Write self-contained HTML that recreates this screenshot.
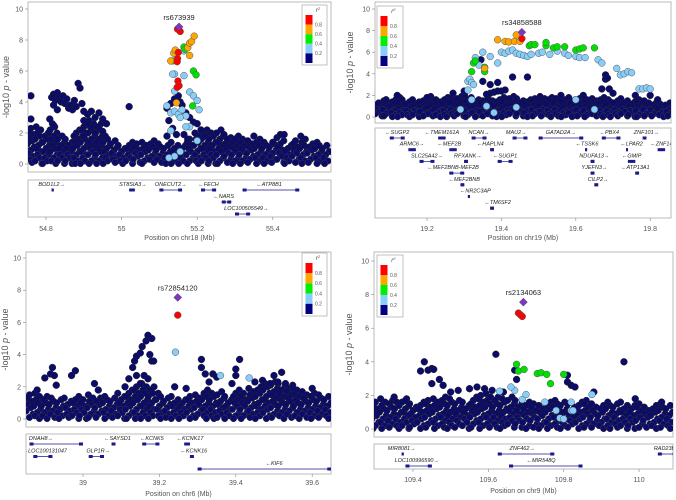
<!DOCTYPE html>
<html><head><meta charset="utf-8"><style>
html,body{margin:0;padding:0;background:#fff;width:676px;height:500px;overflow:hidden}
svg{display:block;font-family:"Liberation Sans",sans-serif}
</style></head><body>
<svg id="chart" width="676" height="500" viewBox="0 0 676 500"></svg>
<script>
// ---------- DATA ----------
const p1Lead=[55.152,8.85];
const p1Red=[[55.148,8.7],[55.155,8.55],[55.15,7.2],[55.148,6.8],[55.147,6.6],[55.149,5.35],[55.152,5.05],[55.147,4.95]];
const p1Orange=[[55.138,7.15],[55.142,7.35],[55.13,6.65],[55.175,7.5],[55.18,7.8],[55.185,7.9],[55.192,8.25],[55.18,7.0],[55.145,3.95]];
const p1Green=[[55.135,6.65],[55.165,7.55],[55.168,7.4],[55.19,6.0],[55.197,5.75],[55.188,3.75]];
const p1Blue=[[55.14,5.8],[55.165,5.7],[55.135,5.8],[55.12,3.75],[55.13,3.3],[55.14,3.4],[55.15,3.2],[55.16,3.5],[55.17,3.1],[55.18,4.65],[55.19,4.4],[55.2,4.1],[55.205,3.5],[55.18,2.4],[55.17,2.4],[55.155,3.0],[55.13,2.15],[55.2,1.5],[55.14,0.5],[55.155,0.8],[55.125,0.4],[55.165,7.3],[55.14,4.7]];
const p1Navy=[[54.815,4.3],[54.82,4.5],[54.825,4.1],[54.83,4.6],[54.835,4.3],[54.84,4.0],[54.845,4.4],[54.85,3.9],[54.855,4.2],[54.86,3.6],[54.865,3.8],[54.87,3.5],[54.875,4.1],[54.88,3.7],[54.885,5.2],[54.89,4.9],[54.895,3.9],[54.9,3.4],[54.82,3.8],[54.83,3.5],[54.81,2.9],[54.82,2.5],[54.76,4.4],[54.76,2.9],[54.9,2.8],[54.91,3.2],[54.92,3.4],[54.93,3.0],[54.94,3.3],[54.95,2.9],[54.92,2.4],[54.93,2.0],[54.91,2.6],[54.9,1.8],[54.95,2.1],[54.96,2.6],[55.02,3.7],[55.12,3.6],[55.13,3.9],[55.14,4.2],[55.15,4.4],[55.155,4.0],[55.16,3.8],[55.17,3.3],[55.18,3.0],[55.19,2.7],[55.2,2.6],[55.125,2.8],[55.135,2.3],[55.145,1.9],[55.165,1.9],[55.175,1.6],[55.21,2.2],[55.22,1.8],[55.12,1.8],[55.35,1.8],[55.42,1.9],[55.43,1.9],[55.4,1.4],[55.52,1.2],[55.3,1.6],[55.28,1.6]];
const p1FloorX=[54.76,54.78,54.8,54.82,54.84,54.86,54.88,54.9,54.92,54.94,54.96,54.98,55.0,55.02,55.04,55.06,55.08,55.1,55.12,55.14,55.16,55.18,55.2,55.22,55.24,55.26,55.28,55.3,55.32,55.34,55.36,55.38,55.4,55.42,55.44,55.46,55.48,55.5,55.52,55.54];
const p1FloorH=[2.3,2.4,2.0,2.6,1.8,1.6,2.2,2.4,2.8,2.6,1.8,1.5,1.2,1.4,1.3,1.4,1.5,1.3,1.2,1.4,1.2,1.6,2.0,2.2,2.0,2.2,1.9,1.8,1.6,1.5,1.6,1.4,1.3,1.7,1.2,1.5,1.8,1.3,1.4,1.2];

const p2Lead=[19.455,7.85];
const p2Red=[[19.455,7.25]];
const p2Orange=[[19.39,7.15],[19.41,7.0],[19.42,6.95],[19.435,7.0],[19.44,7.6],[19.45,7.0],[19.355,4.5]];
const p2Green=[[19.325,5.0],[19.33,5.2],[19.32,4.2],[19.355,4.6],[19.355,4.2],[19.475,6.6],[19.48,6.7],[19.49,6.7],[19.52,6.6],[19.52,6.9],[19.54,6.4],[19.55,6.5],[19.57,6.5],[19.6,6.2],[19.61,6.3],[19.62,6.4],[19.65,6.4]];
const p2Blue=[[19.31,3.3],[19.315,3.5],[19.32,3.2],[19.325,3.0],[19.33,5.5],[19.34,4.8],[19.35,6.0],[19.37,5.6],[19.39,5.0],[19.4,6.0],[19.41,5.9],[19.42,6.1],[19.43,6.2],[19.44,5.9],[19.45,5.8],[19.46,5.7],[19.47,5.6],[19.48,5.8],[19.5,5.9],[19.51,6.0],[19.53,5.8],[19.55,6.1],[19.57,5.9],[19.58,5.7],[19.6,5.6],[19.61,5.5],[19.625,5.5],[19.66,5.3],[19.67,5.0],[19.71,4.5],[19.72,3.9],[19.73,4.0],[19.74,4.2],[19.75,4.1],[19.77,2.6],[19.78,2.6],[19.79,2.7],[19.8,2.6],[19.31,2.5],[19.32,1.6],[19.29,0.7],[19.36,1.0],[19.38,0.4],[19.44,0.9],[19.6,1.6],[19.65,0.7]];
const p2Navy=[[19.35,3.3],[19.37,3.0],[19.39,3.2],[19.43,3.7],[19.47,3.7],[19.36,2.1],[19.37,2.2],[19.38,2.3],[19.39,2.4],[19.4,2.4],[19.41,2.5],[19.68,3.9],[19.68,3.5],[19.685,3.6],[19.69,2.6],[19.67,2.6],[19.345,5.3],[19.09,1.6],[19.12,2.0],[19.2,1.8],[19.27,2.2],[19.3,2.4],[19.56,2.0],[19.62,2.0],[19.7,2.2],[19.76,2.0],[19.8,2.0],[19.82,1.6]];
const p2FloorX=[19.07,19.09,19.11,19.13,19.15,19.17,19.19,19.21,19.23,19.25,19.27,19.29,19.31,19.33,19.35,19.37,19.39,19.41,19.43,19.45,19.47,19.49,19.51,19.53,19.55,19.57,19.59,19.61,19.63,19.65,19.67,19.69,19.71,19.73,19.75,19.77,19.79,19.81,19.83,19.85];
const p2FloorH=[1.3,1.5,1.6,1.8,1.4,1.6,1.7,1.9,1.6,1.8,1.7,1.9,2.0,1.6,1.5,1.7,1.6,1.8,1.9,1.7,1.6,1.7,1.9,1.8,1.7,1.6,1.8,1.9,1.6,1.7,1.8,1.6,1.5,1.7,1.4,1.6,1.5,1.3,1.2,1.3];

const p3Lead=[39.248,7.55];
const p3Red=[[39.248,6.45]];
const p3Orange=[];
const p3Green=[];
const p3Blue=[[39.242,4.15],[39.36,2.7],[39.435,2.55]];
const p3Navy=[[39.17,5.2],[39.165,4.85],[39.18,5.0],[39.175,4.0],[39.14,3.9],[39.15,4.1],[39.155,4.5],[39.135,3.6],[39.13,3.2],[39.14,2.7],[39.16,2.7],[39.18,3.6],[39.185,3.6],[39.17,2.5],[39.15,2.2],[39.12,2.5],[39.11,2.0],[38.92,3.2],[38.9,2.55],[38.915,2.8],[38.925,2.7],[38.93,2.1],[38.97,2.7],[38.98,3.0],[38.88,1.8],[39.03,2.2],[39.04,1.8],[39.31,3.7],[39.31,3.2],[39.32,2.8],[39.34,2.8],[39.35,2.6],[39.33,2.3],[39.41,3.7],[39.4,3.1],[39.4,2.7],[39.39,2.2],[39.5,2.7],[39.52,2.9],[39.45,2.3],[39.47,2.4],[39.49,2.2],[39.51,2.3],[39.53,2.2],[39.55,1.9],[39.6,1.9],[39.24,2.0],[39.27,1.9]];
const p3FloorX=[38.86,38.88,38.9,38.92,38.94,38.96,38.98,39.0,39.02,39.04,39.06,39.08,39.1,39.12,39.14,39.16,39.18,39.2,39.22,39.24,39.26,39.28,39.3,39.32,39.34,39.36,39.38,39.4,39.42,39.44,39.46,39.48,39.5,39.52,39.54,39.56,39.58,39.6,39.62,39.64];
const p3FloorH=[1.5,1.6,1.4,1.3,1.2,1.3,1.4,1.2,1.5,1.3,1.4,1.3,1.6,1.8,2.0,2.2,2.0,1.6,1.3,1.4,1.2,1.4,1.5,1.8,1.6,1.7,1.4,1.8,1.6,1.9,2.0,2.2,2.3,2.2,2.1,1.8,1.7,1.6,1.5,1.4];

const p4Lead=[109.693,7.55];
const p4Red=[[109.68,6.9],[109.685,6.8],[109.69,6.7]];
const p4Orange=[];
const p4Green=[[109.675,3.85],[109.68,3.45],[109.695,3.55],[109.73,3.3],[109.74,3.35],[109.755,3.25],[109.765,2.7],[109.8,3.25]];
const p4Blue=[[109.63,2.25],[109.67,2.3],[109.69,1.75],[109.7,2.05],[109.75,1.6],[109.78,1.1],[109.79,0.65],[109.8,0.6],[109.82,1.6],[109.82,1.1],[109.825,1.1],[109.875,2.05],[109.66,2.5]];
const p4Navy=[[109.62,4.45],[109.96,4.0],[109.43,4.0],[109.42,3.45],[109.44,3.5],[109.45,3.6],[109.455,3.55],[109.45,2.7],[109.47,2.95],[109.48,2.6],[109.67,3.5],[109.675,2.95],[109.81,3.2],[109.81,2.8],[109.82,2.6],[109.83,2.5],[109.88,2.2],[109.55,2.4],[109.57,2.5],[109.59,2.4],[109.61,2.3],[109.64,2.2],[109.5,2.2],[109.52,2.3],[109.35,1.9],[109.38,1.7],[109.99,1.8],[110.06,1.6]];
const p4FloorX=[109.3,109.32,109.34,109.36,109.38,109.4,109.42,109.44,109.46,109.48,109.5,109.52,109.54,109.56,109.58,109.6,109.62,109.64,109.66,109.68,109.7,109.72,109.74,109.76,109.78,109.8,109.82,109.84,109.86,109.88,109.9,109.92,109.94,109.96,109.98,110.0,110.02,110.04,110.06,110.08];
const p4FloorH=[1.6,1.8,1.7,1.6,1.8,1.5,1.6,1.7,1.8,1.9,1.8,1.7,1.6,1.9,2.0,2.1,1.9,1.8,1.9,1.7,1.6,1.5,1.4,1.6,1.7,1.6,1.5,1.6,1.7,1.5,1.4,1.6,1.5,1.6,1.4,1.5,1.3,1.4,1.5,1.4];

const p1Genes=[["BOD1L2",54.815,54.817,0,54.815,"r"],["ST8SIA3",55.02,55.035,0,55.03,"r"],["ONECUT2",55.1,55.16,0,55.13,"r"],["FECH",55.21,55.25,0,55.23,"l"],["ATP8B1",55.32,55.47,0,55.39,"l"],["NARS",55.265,55.29,1,55.27,"l"],["LOC100505549",55.3,55.34,2,55.33,"r"]];
const p2Genes=[["SUGP2",19.1,19.14,0,19.12,"l"],["TMEM161A",19.23,19.25,0,19.24,"l"],["NCAN",19.32,19.36,0,19.34,"r"],["MAU2",19.43,19.47,0,19.44,"r"],["GATAD2A",19.5,19.62,0,19.56,"r"],["PBX4",19.67,19.72,0,19.69,"l"],["ZNF101",19.78,19.79,0,19.79,"r"],["ARMC6",19.15,19.17,1,19.16,"r"],["MEF2B",19.26,19.28,1,19.26,"l"],["HAPLN4",19.37,19.38,1,19.37,"l"],["TSSK6",19.625,19.63,1,19.63,"l"],["LPAR2",19.735,19.74,1,19.75,"l"],["ZNF14",19.82,19.84,1,19.83,"l"],["SLC25A42",19.18,19.22,2,19.2,"r"],["RFXANK",19.3,19.31,2,19.31,"r"],["SUGP1",19.39,19.43,2,19.41,"l"],["NDUFA13",19.64,19.65,2,19.65,"r"],["GMIP",19.74,19.76,2,19.75,"l"],["MEF2BNB-MEF2B",19.26,19.3,3,19.27,"l"],["YJEFN3",19.64,19.65,3,19.65,"r"],["ATP13A1",19.76,19.77,3,19.76,"l"],["MEF2BNB",19.29,19.3,4,19.3,"l"],["CILP2",19.65,19.66,4,19.66,"r"],["NR2C3AP",19.31,19.312,5,19.33,"l"],["TM6SF2",19.37,19.38,6,19.39,"l"]];
const p3Genes=[["DNAH8",38.86,39.0,0,38.89,"r"],["SAYSD1",39.075,39.085,0,39.09,"l"],["KCNK5",39.155,39.2,0,39.18,"l"],["KCNK17",39.265,39.28,0,39.28,"l"],["LOC100131047",38.87,38.92,1,38.9,"l"],["GLP1R",39.015,39.055,1,39.04,"r"],["KCNK16",39.28,39.29,1,39.29,"l"],["KIF6",39.3,39.65,2,39.5,"l"]];
const p4Genes=[["MIR8081",109.37,109.372,0,109.37,"r"],["ZNF462",109.625,109.775,0,109.69,"r"],["RAD23B",110.05,110.1,0,110.075,"r"],["LOC100996590",109.38,109.45,1,109.41,"r"],["MIR548Q",109.655,109.85,1,109.74,"l"]];

const p1Ticks=[54.8,55,55.2,55.4];
const p2Ticks=[19.2,19.4,19.6,19.8];
const p3Ticks=[39,39.2,39.4,39.6];
const p4Ticks=[109.4,109.6,109.8,110];
const yTicks=[0,2,4,6,8,10];
const legendLabels=["0.8","0.6","0.4","0.2"];
const legendColors=["#ff0000","#ffa500","#00ee00","#87cefa","#000080"];

// ---------- RENDER ----------
const NS="http://www.w3.org/2000/svg";
const svg=document.getElementById('chart');
function mk(tag,attrs,parent,text){const e=document.createElementNS(NS,tag);for(const k in attrs)e.setAttribute(k,attrs[k]);if(text!==undefined)e.textContent=text;(parent||svg).appendChild(e);return e;}
const jit=[0,-0.006,0.006,-0.003,0.003,-0.009,0.009];

const panels=[
 {id:"chr18",box:[28,331,2,172],xr:[46,54.8,378],yr:[164,15.5],gene:[180,217],rowH:12,tickY:231,titleY:240,ylabX:9,title:"Position on chr18 (Mb)",leg:[302,5,25,60],lead:p1Lead,leadName:"rs673939",red:p1Red,orange:p1Orange,green:p1Green,blue:p1Blue,navy:p1Navy,fx:p1FloorX,fh:p1FloorH,genes:p1Genes,ticks:p1Ticks},
 {id:"chr19",box:[375,671,2,123],xr:[427,19.2,372],yr:[117,10.8],gene:[128,218],rowH:11.7,tickY:231,titleY:240,ylabX:353,title:"Position on chr19 (Mb)",leg:[377,6,26,62],lead:p2Lead,leadName:"rs34858588",red:p2Red,orange:p2Orange,green:p2Green,blue:p2Blue,navy:p2Navy,fx:p2FloorX,fh:p2FloorH,genes:p2Genes,ticks:p2Ticks},
 {id:"chr6",box:[26,331,252,427],xr:[83,39,382],yr:[419,16.1],gene:[434,474],rowH:12.5,tickY:485,titleY:496,ylabX:8,title:"Position on chr6 (Mb)",leg:[302,253,25,63],lead:p3Lead,leadName:"rs72854120",red:p3Red,orange:p3Orange,green:p3Green,blue:p3Blue,navy:p3Navy,fx:p3FloorX,fh:p3FloorH,genes:p3Genes,ticks:p3Ticks},
 {id:"chr9",box:[374,673,252,437],xr:[413,109.4,376.7],yr:[429,16.8],gene:[444,469],rowH:12,tickY:482,titleY:493,ylabX:352,title:"Position on chr9 (Mb)",leg:[377,255,26,62],lead:p4Lead,leadName:"rs2134063",red:p4Red,orange:p4Orange,green:p4Green,blue:p4Blue,navy:p4Navy,fx:p4FloorX,fh:p4FloorH,genes:p4Genes,ticks:p4Ticks}
];

panels.forEach(P=>{
  const g=mk('g',{});
  
  
  const [x0,x1,y0,y1]=P.box;
  const X=v=>P.xr[0]+(v-P.xr[1])*P.xr[2];
  const Y=v=>P.yr[0]-v*P.yr[1];
  const cid='clip-'+P.id;
  const cp=mk('clipPath',{id:cid},g);mk('rect',{x:x0,y:y0,width:x1-x0,height:y1-y0},cp);
  const frame=mk('rect',{x:x0,y:y0,width:x1-x0,height:y1-y0,fill:'#fff',stroke:'#bbb','stroke-width':1},g);
  
  
  yTicks.forEach(t=>{
    const yy=Y(t);
    mk('line',{x1:x0-3,x2:x0,y1:yy,y2:yy,stroke:'#888','stroke-width':0.6},g);
    const tl=mk('text',{x:x0-5,y:yy+2.5,'font-size':7,fill:'#555','text-anchor':'end'},g,String(t));
    
    
  });
  const yc=(y0+y1)/2;
  const yl=mk('text',{x:P.ylabX,y:yc,'font-size':9,fill:'#555','text-anchor':'middle',transform:`rotate(-90 ${P.ylabX} ${yc})`},g);
  
  
  yl.innerHTML='-log10 <tspan font-style="italic">p</tspan> - value';
  const pg=mk('g',{'clip-path':`url(#${cid})`},g);
  
  
  P.fx.forEach((fx,i)=>{
    const h=P.fh[i];
    let k=0;
    for(let v=h;v>=-0.05;v-=0.2){
      const jx=jit[(k+i)%jit.length];
      const c=mk('circle',{cx:X(fx+jx),cy:Y(Math.max(v,0.03)),r:3.3,fill:'#0b0b6b',stroke:(v<0.8?'#3a3a3a':'#222'),'stroke-width':0.5},pg);
      
      
      k++;
    }
  });
  const groups=[[P.navy,'#0b0b6b','#222','navy'],[P.blue,'#87cefa','#555','lightblue'],[P.green,'#00e000','#555','green'],[P.orange,'#ffa500','#555','orange'],[P.red,'#ff0000','#555','red']];
  groups.forEach(([arr,fill,st,nm])=>{
    arr.forEach(d=>{
      const c=mk('circle',{cx:X(d[0]),cy:Y(d[1]),r:3.4,fill:fill,stroke:st,'stroke-width':0.5},pg);
      
      
    });
  });
  const lx=X(P.lead[0]),ly=Y(P.lead[1]);
  const ld=mk('polygon',{points:`${lx},${ly-4} ${lx+4},${ly} ${lx},${ly+4} ${lx-4},${ly}`,fill:'#7f35c8',stroke:'#444','stroke-width':0.5},g);
  
  
  const lt=mk('text',{x:lx,y:ly-7,'font-size':7.5,fill:'#222','text-anchor':'middle'},g,P.leadName);
  
  
  const [lgx,lgy,lgw,lgh]=P.leg;
  const lg=mk('g',{},g);
  
  
  mk('rect',{x:lgx,y:lgy,width:lgw,height:lgh,fill:'#fff',stroke:'#999','stroke-width':0.6},lg);
  const lt2=mk('text',{x:lgx+lgw*0.55,y:lgy+7,'font-size':6,fill:'#444','font-style':'italic'},lg);
  lt2.innerHTML='r<tspan font-size="4" dy="-2">2</tspan>';
  const bh=(lgh-12)/5;
  legendColors.forEach((c,i)=>{
    const r=mk('rect',{x:lgx+3.5,y:lgy+10+i*bh,width:7,height:bh,fill:c},lg);
    
    
  });
  legendLabels.forEach((t,i)=>{
    mk('text',{x:lgx+13,y:lgy+10+(i+1)*bh+1.8,'font-size':5,fill:'#555'},lg,t);
  });
  const [gy0,gy1]=P.gene;
  const gt=mk('g',{},g);
  
  
  mk('rect',{x:x0,y:gy0,width:x1-x0,height:gy1-gy0,fill:'#fff',stroke:'#bbb','stroke-width':1},gt);
  const gcp='gclip-'+P.id;
  const gc=mk('clipPath',{id:gcp},g);mk('rect',{x:x0,y:gy0,width:x1-x0,height:gy1-gy0},gc);
  const gg=mk('g',{'clip-path':`url(#${gcp})`},gt);
  P.genes.forEach(ge=>{
    const [name,s,e,row,lab,dir]=ge;
    const ty=gy0+6+row*P.rowH, ly2=ty+4;
    const a=X(s),b=Math.max(X(e),a+2);
    mk('line',{x1:a,x2:b,y1:ly2,y2:ly2,stroke:'#1a1a8a','stroke-width':0.7},gg);
    mk('rect',{x:a,y:ly2-1.5,width:Math.min(b-a,4),height:3,fill:'#1a1a8a'},gg);
    mk('rect',{x:Math.max(a,b-4),y:ly2-1.5,width:Math.min(b-a,4),height:3,fill:'#1a1a8a'},gg);
    const txt=dir==='r'?name+'→':'←'+name;
    const t=mk('text',{x:X(lab),y:ty,'font-size':5.5,fill:'#222','font-style':'italic','text-anchor':'middle'},gg,txt);
    
    
  });
  P.ticks.forEach(t=>{
    const xx=X(t);
    mk('line',{x1:xx,x2:xx,y1:gy1,y2:gy1+3,stroke:'#888','stroke-width':0.6},g);
    const tl=mk('text',{x:xx,y:P.tickY,'font-size':7,fill:'#555','text-anchor':'middle'},g,String(t));
    
    
  });
  const xt=mk('text',{x:(x0+x1)/2,y:P.titleY,'font-size':7,fill:'#555','text-anchor':'middle'},g,P.title);
  
  
});
</script>
</body></html>
